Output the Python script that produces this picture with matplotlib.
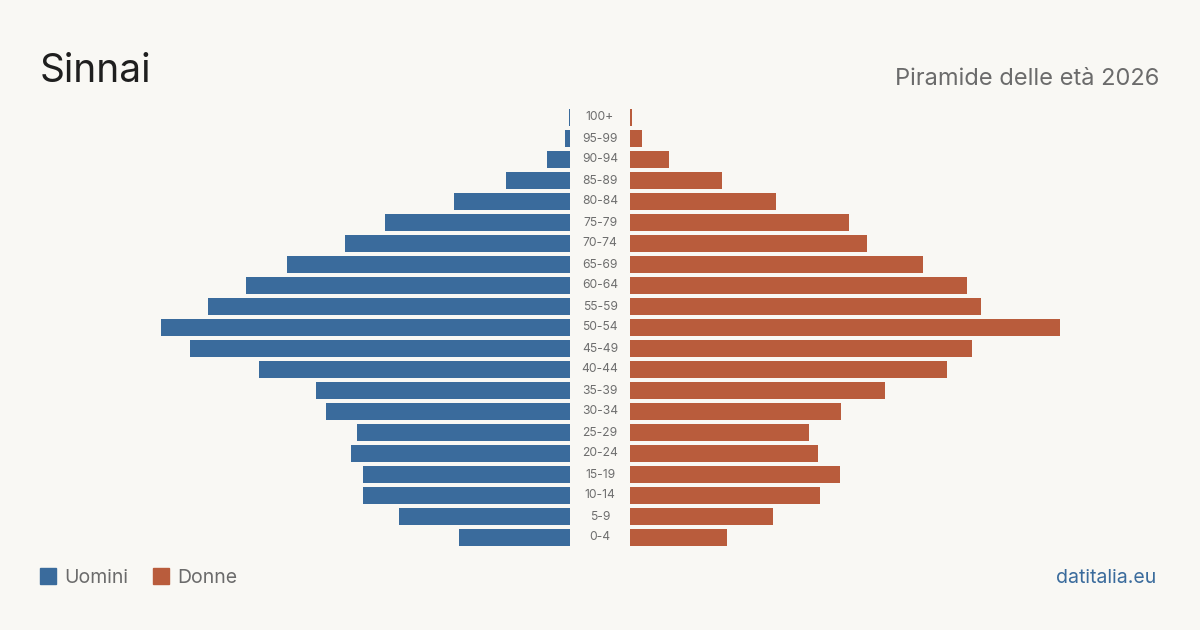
import matplotlib
matplotlib.use("Agg")
import matplotlib.pyplot as plt
from matplotlib.patches import Rectangle

# dati
eta = ["100+", "95-99", "90-94", "85-89", "80-84", "75-79", "70-74", "65-69",
       "60-64", "55-59", "50-54", "45-49", "40-44", "35-39", "30-34", "25-29",
       "20-24", "15-19", "10-14", "5-9", "0-4"]
uomini = [1, 5, 23, 64, 116, 185, 225, 283, 324, 362, 409, 380, 311, 254,
          244, 213, 219, 207, 207, 171, 111]
donne = [2, 12, 39, 92, 146, 219, 237, 293, 337, 351, 430, 342, 317, 255,
         211, 179, 188, 210, 190, 143, 97]

blu = "#3a6b9c"
rosso = "#b95c3c"
sfondo = "#f9f8f4"

plt.rcParams['font.family'] = ['Inter', 'DejaVu Sans']

W, H = 1200, 630
fig = plt.figure(figsize=(12, 6.3), dpi=100, facecolor=sfondo)

bottom = (H - 548) / H
height = 441 / H
ax_l = fig.add_axes([130 / W, bottom, 440 / W, height])
ax_r = fig.add_axes([630 / W, bottom, 460 / W, height])

y = list(range(len(eta)))
ax_l.barh(y, uomini, height=0.81, color=blu)
ax_r.barh(y, donne, height=0.81, color=rosso)
ax_l.set_xlim(440, 0)
ax_r.set_xlim(0, 460)
for ax in (ax_l, ax_r):
    ax.set_ylim(len(eta) - 0.5, -0.5)
    ax.axis("off")
    ax.set_facecolor("none")

for i, lab in enumerate(eta):
    ax_r.text(-30, i, lab, ha="center", va="center", fontsize=8.7,
              color="#6e6e6e", clip_on=False)

fig.text(40 / W, 1 - 82 / H, "Sinnai", fontsize=28, color="#1f1f1f",
         ha="left", va="baseline")
fig.text(1159 / W, 1 - 85 / H, "Piramide delle età 2026", fontsize=17,
         color="#6b6b6b", ha="right", va="baseline")

# legenda
fig.patches.append(Rectangle((40 / W, 1 - 584 / H), 16 / W, 16 / H,
                             transform=fig.transFigure, color=blu))
fig.text(64 / W, 1 - 583 / H, "Uomini", fontsize=14, color="#6b6b6b",
         va="baseline")
fig.patches.append(Rectangle((153 / W, 1 - 584 / H), 16 / W, 16 / H,
                             transform=fig.transFigure, color=rosso))
fig.text(177 / W, 1 - 583 / H, "Donne", fontsize=14, color="#6b6b6b",
         va="baseline")
fig.text(1156 / W, 1 - 583 / H, "datitalia.eu", fontsize=14, color=blu,
         ha="right", va="baseline")

fig.savefig("out.png", dpi=100, facecolor=sfondo)
